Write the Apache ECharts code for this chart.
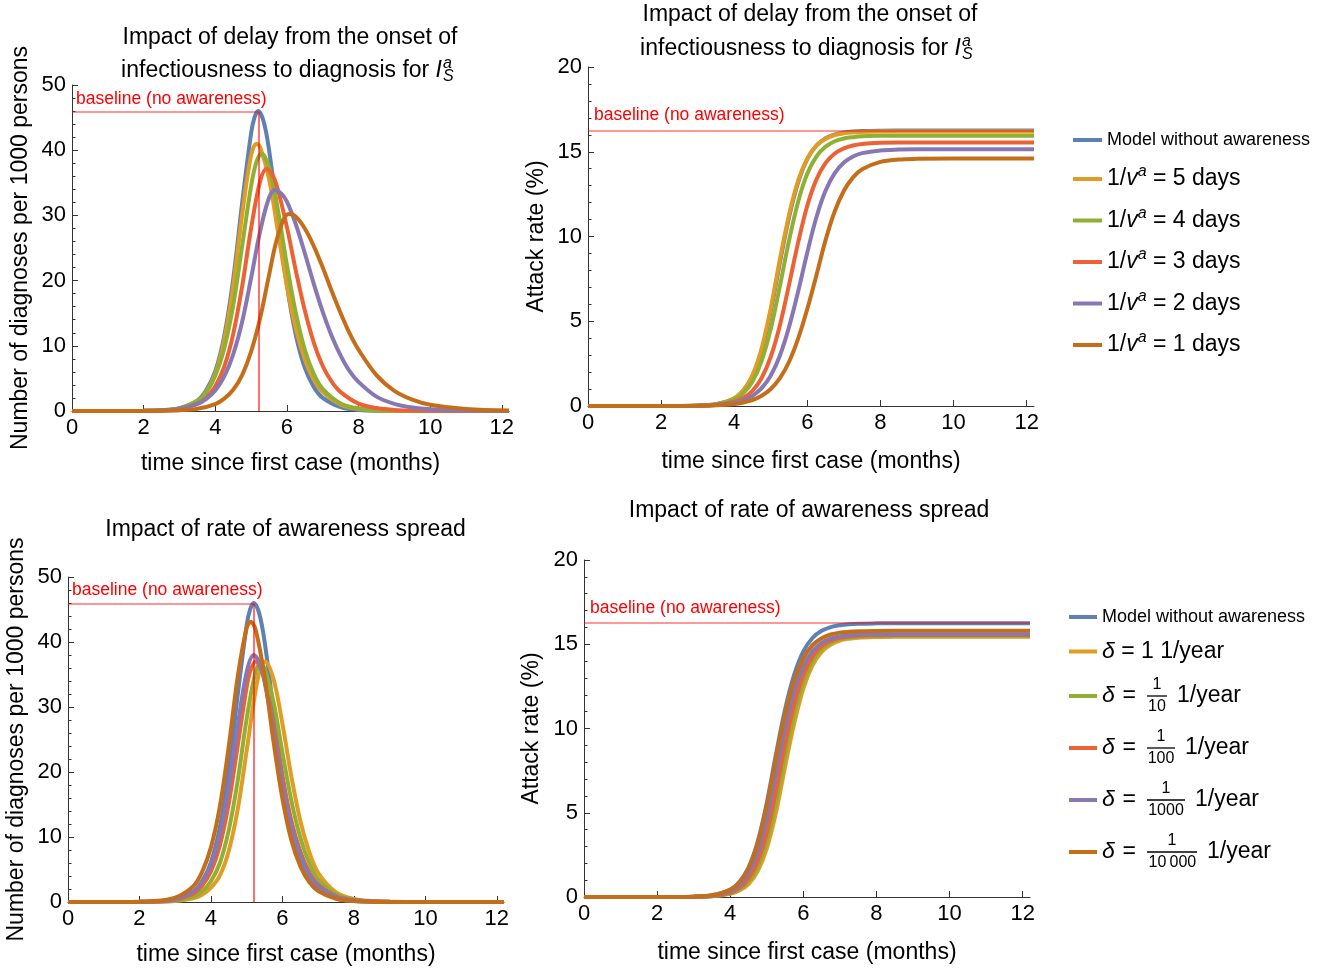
<!DOCTYPE html>
<html><head><meta charset="utf-8">
<script src="https://cdn.jsdelivr.net/npm/echarts@6/dist/echarts.min.js"></script>
<style>html,body{margin:0;padding:0;background:#fff}#c{width:1320px;height:968px}</style>
</head><body><div id="c"></div>
<script>
// ---------------- DATA ----------------
const delayNames = ['Model without awareness','1/v^a = 5 days','1/v^a = 4 days','1/v^a = 3 days','1/v^a = 2 days','1/v^a = 1 days'];
const deltaNames = ['Model without awareness','δ = 1 1/year','δ = 1/10 1/year','δ = 1/100 1/year','δ = 1/1000 1/year','δ = 1/10000 1/year'];
const xTicks = [0,2,4,6,8,10,12];

const basePeak = 45.9;       // baseline peak diagnoses
const basePeakTime = 5.2;    // month of baseline peak
const baseAttack = 16.25;    // baseline final attack rate (%)

// Panel A: diagnoses per 1000, delay scenarios ([month, value])
const diagBlue = [[0,0],[1,0],[2,0.03],[2.5,0.1],[3,0.4],[3.5,1.6],[3.75,3.2],[4,6.1],[4.25,11.5],[4.5,20.2],[4.75,31.9],[5,42.6],[5.1,45.1],[5.2,46],[5.35,44.4],[5.5,40.1],[5.75,29.6],[6,19.3],[6.25,11.6],[6.5,6.6],[6.75,3.7],[7,2.0],[7.5,0.58],[8,0.17],[9,0.01],[10,0],[12.2,0]];
const diagDelay5 = [[0,0],[1,0],[2,0.02],[2.5,0.08],[3,0.35],[3.5,1.4],[3.75,2.9],[4,5.7],[4.25,10.8],[4.5,19.1],[4.75,30.1],[5,39.2],[5.15,41],[5.25,40.5],[5.5,35.6],[5.75,27.5],[6,19.2],[6.25,12.6],[6.5,7.9],[6.75,4.8],[7,2.9],[7.5,0.98],[8,0.33],[8.5,0.11],[9,0.04],[10,0],[12.2,0]];
const diagDelay4 = [[0,0],[1,0],[2,0.02],[2.5,0.12],[3,0.45],[3.5,1.58],[3.75,2.9],[4,5.4],[4.25,9.6],[4.5,16.2],[4.75,25.3],[5,34.5],[5.15,38.2],[5.29,39.5],[5.5,37.4],[5.75,30.8],[6,22.4],[6.25,15.0],[6.5,9.4],[6.75,5.7],[7,3.4],[7.5,1.15],[8,0.38],[8.5,0.13],[9,0.04],[10,0],[12.2,0]];
const diagDelay3 = [[0,0],[1,0],[2,0.02],[2.5,0.09],[3,0.31],[3.5,1.1],[3.75,2.05],[4,3.8],[4.25,6.8],[4.5,11.8],[4.75,19.1],[5,28.0],[5.25,35.2],[5.43,37.1],[5.6,36.2],[5.75,33.9],[6,28.2],[6.25,21.5],[6.5,15.4],[6.75,10.5],[7,6.9],[7.25,4.5],[7.5,2.9],[8,1.14],[8.5,0.45],[9,0.17],[9.5,0.07],[10,0.03],[11,0],[12.2,0]];
const diagDelay2 = [[0,0],[1,0.01],[2,0.04],[2.5,0.12],[3,0.36],[3.5,1.08],[3.75,1.85],[4,3.15],[4.25,5.3],[4.5,8.7],[4.75,13.7],[5,20.4],[5.25,27.5],[5.5,32.7],[5.67,33.9],[5.85,33.3],[6,32.1],[6.25,28.6],[6.5,24.2],[6.75,19.5],[7,15.2],[7.25,11.5],[7.5,8.5],[7.75,6.1],[8,4.45],[8.5,2.2],[9,1.1],[9.5,0.54],[10,0.27],[11,0.06],[12.2,0.01]];
const diagDelay1 = [[0,0],[1,0],[2,0.01],[2.5,0.03],[3,0.11],[3.5,0.34],[4,1.07],[4.25,1.9],[4.5,3.25],[4.75,5.5],[5,9.1],[5.25,14.2],[5.5,20.8],[5.75,26.9],[6.05,30.2],[6.25,29.8],[6.5,28.0],[6.75,25.3],[7,22.0],[7.25,18.4],[7.5,15.0],[7.75,11.9],[8,9.4],[8.5,5.5],[9,3.1],[9.5,1.75],[10,0.96],[11,0.29],[12.2,0.07]];

// Attack rate panels share one time grid
const tAttack = [0,2,3,3.5,4,4.25,4.5,4.75,5,5.25,5.5,5.75,6,6.25,6.5,6.75,7,7.25,7.5,8,8.5,9,10,11,12.2];
const attackBlue   = [0,0,0.02,0.10,0.44,0.89,1.74,3.27,5.59,8.46,11.13,13.2,14.58,15.37,15.8,16.02,16.13,16.19,16.22,16.24,16.25,16.25,16.25,16.25,16.25];
const attackDelay5 = [0,0,0.03,0.11,0.46,0.94,1.83,3.41,5.78,8.66,11.29,13.31,14.61,15.37,15.77,15.99,16.09,16.14,16.17,16.19,16.2,16.2,16.2,16.2,16.2];
const attackDelay4 = [0,0,0.02,0.10,0.39,0.76,1.44,2.66,4.55,7.09,9.77,12.07,13.71,14.73,15.3,15.62,15.78,15.86,15.91,15.94,15.95,15.95,15.95,15.95,15.95];
const attackDelay3 = [0,0,0.02,0.07,0.25,0.48,0.9,1.65,2.91,4.77,7.16,9.67,11.83,13.37,14.34,14.9,15.2,15.37,15.46,15.53,15.55,15.55,15.55,15.55,15.55];
const attackDelay2 = [0,0,0.02,0.06,0.19,0.33,0.6,1.05,1.8,2.98,4.67,6.77,9.07,11.15,12.71,13.74,14.36,14.72,14.92,15.08,15.13,15.15,15.15,15.15,15.15];
const attackDelay1 = [0,0,0.01,0.04,0.12,0.21,0.35,0.6,1.0,1.64,2.61,3.99,5.74,7.73,9.8,11.49,12.7,13.49,13.97,14.4,14.54,14.58,14.6,14.6,14.6];

// Panel C: diagnoses, awareness spread rate scenarios
const diagDelta1     = [[0,0],[1,0],[2,0.01],[2.5,0.03],[3,0.14],[3.5,0.55],[3.75,1.1],[4,2.2],[4.25,4.1],[4.5,7.9],[4.75,14.3],[5,23.3],[5.25,32.6],[5.4,36.2],[5.51,37],[5.75,34.3],[6,27.4],[6.25,19.3],[6.5,12.5],[6.75,7.7],[7,4.5],[7.5,1.5],[8,0.48],[8.5,0.15],[9,0.05],[10,0],[12.2,0]];
const diagDelta10    = [[0,0],[1,0],[2,0.01],[2.5,0.05],[3,0.22],[3.5,0.84],[3.75,1.64],[4,3.2],[4.25,6.0],[4.5,11.1],[4.75,18.7],[5,28.2],[5.25,35.5],[5.38,36.6],[5.5,35.9],[5.75,30.8],[6,23.0],[6.25,15.6],[6.5,9.9],[6.75,6.0],[7,3.5],[7.5,1.16],[8,0.37],[8.5,0.12],[9,0.04],[10,0],[12.2,0]];
const diagDelta100   = [[0,0],[1,0],[2,0.02],[2.5,0.09],[3,0.34],[3.5,1.28],[3.75,2.5],[4,4.7],[4.25,8.7],[4.5,15.2],[4.75,24.1],[5,33.1],[5.1,35.5],[5.25,37],[5.4,35.9],[5.5,34.1],[5.75,27.2],[6,19.3],[6.25,12.5],[6.5,7.8],[6.75,4.6],[7,2.7],[7.5,0.88],[8,0.29],[8.5,0.1],[9,0.03],[10,0],[12.2,0]];
const diagDelta1000  = [[0,0],[1,0],[2,0.03],[2.5,0.11],[3,0.43],[3.5,1.6],[3.75,3.1],[4,5.7],[4.25,10.4],[4.5,17.6],[4.75,27.1],[5,35.4],[5.2,38],[5.35,36.9],[5.5,33.9],[5.75,26.3],[6,18.2],[6.25,11.7],[6.5,7.2],[6.75,4.2],[7,2.5],[7.5,0.8],[8,0.26],[8.5,0.09],[9,0.03],[10,0],[12.2,0]];
const diagDelta10000 = [[0,0],[1,0],[2,0.05],[2.5,0.18],[3,0.66],[3.5,2.4],[3.75,4.6],[4,8.4],[4.25,14.7],[4.5,24.0],[4.75,34.7],[5,42.2],[5.11,43.1],[5.25,41.9],[5.5,34.7],[5.75,24.7],[6,15.9],[6.25,9.5],[6.5,5.5],[6.75,3.05],[7,1.7],[7.5,0.5],[8,0.15],[8.5,0.05],[9,0],[12.2,0]];

// Panel D: attack rate, awareness spread rate scenarios (on tAttack)
const attackDelta1     = [0,0,0.01,0.04,0.19,0.38,0.77,1.53,2.89,5.0,7.73,10.3,12.36,13.74,14.55,14.98,15.22,15.33,15.39,15.43,15.45,15.45,15.45,15.45,15.45];
const attackDelta10    = [0,0,0.01,0.05,0.22,0.45,0.92,1.8,3.34,5.64,8.39,10.9,12.8,14.02,14.73,15.1,15.3,15.4,15.45,15.49,15.5,15.5,15.5,15.5,15.5];
const attackDelta100   = [0,0,0.01,0.06,0.26,0.54,1.09,2.11,3.83,6.31,9.06,11.45,13.19,14.28,14.89,15.21,15.38,15.46,15.51,15.54,15.55,15.55,15.55,15.55,15.55];
const attackDelta1000  = [0,0,0.02,0.08,0.34,0.70,1.4,2.64,4.66,7.34,10.01,12.2,13.69,14.59,15.08,15.33,15.47,15.53,15.57,15.59,15.6,15.6,15.6,15.6,15.6];
const attackDelta10000 = [0,0,0.02,0.10,0.42,0.86,1.69,3.18,5.43,8.23,10.82,12.85,14.17,14.95,15.36,15.58,15.69,15.74,15.77,15.79,15.8,15.8,15.8,15.8,15.8];

// ---------------- STYLE / BUILD ----------------
const FONT = '"Liberation Sans", Arial, Helvetica, sans-serif';
const COLORS = ['#5E81B5','#E19C24','#8FB032','#EB6235','#8778B3','#C56E1A'];
const AXIS_COLOR = '#333';
const zipT = arr => tAttack.map((t, i) => [t, arr[i]]);

const grids = [
  {left:72,  top:85,  width:437, height:326},
  {left:588, top:67,  width:446, height:339},
  {left:68,  top:577, width:436, height:325},
  {left:584, top:560, width:446, height:337}
].map(g => Object.assign({outerBoundsMode:'none', containLabel:false}, g));

function makeX(i, gap){
  return {type:'value', gridIndex:i, min:0, max:12.2, interval:2,
    axisLine:{show:true, onZero:false, lineStyle:{color:AXIS_COLOR, width:1}},
    axisTick:{show:true, inside:true, length:6, customValues:xTicks, lineStyle:{color:AXIS_COLOR}},
    axisLabel:{customValues:xTicks, fontSize:22, color:'#000', fontFamily:FONT, margin:6},
    splitLine:{show:false},
    name:'time since first case (months)', nameLocation:'middle', nameGap:gap,
    nameTextStyle:{fontSize:23, color:'#000', fontFamily:FONT}};
}
function makeY(i, max, interval, name, gap){
  return {type:'value', gridIndex:i, min:0, max:max, interval:interval,
    axisLine:{show:true, lineStyle:{color:AXIS_COLOR, width:1}},
    axisTick:{show:true, inside:true, length:6, lineStyle:{color:AXIS_COLOR}},
    minorTick:{show:true, splitNumber:5, length:3.5, lineStyle:{color:AXIS_COLOR}},
    axisLabel:{fontSize:22, color:'#000', fontFamily:FONT, margin:6},
    splitLine:{show:false}, minorSplitLine:{show:false},
    name:name, nameLocation:'middle', nameGap:gap,
    nameTextStyle:{fontSize:23, color:'#000', fontFamily:FONT}};
}

const baseLabel = {show:true, formatter:'baseline (no awareness)', position:'insideStartTop', color:'#ff0000', fontSize:17.5, fontFamily:FONT, distance:4};
const hLine = {color:'rgba(255,0,0,0.55)', width:1.5, type:'solid'};
const vLine = {color:'rgba(255,0,0,0.75)', width:1.5, type:'solid'};

function peakMark(){
  return {silent:true, symbol:['none','none'], animation:false,
    data:[
      [{coord:[0, basePeak], lineStyle:hLine, label:baseLabel}, {coord:[basePeakTime, basePeak]}],
      [{coord:[basePeakTime, 0], lineStyle:vLine, label:{show:false}}, {coord:[basePeakTime, basePeak]}]
    ]};
}
function attackMark(){
  return {silent:true, symbol:['none','none'], animation:false,
    data:[[{coord:[0, baseAttack], lineStyle:hLine, label:Object.assign({}, baseLabel, {distance:6})}, {coord:[12.2, baseAttack]}]]};
}

function line(name, k, data, axis, extra){
  return Object.assign({type:'line', name:name, xAxisIndex:axis, yAxisIndex:axis, data:data,
    color:COLORS[k], showSymbol:false, symbol:'none', smooth:0.35, animation:false,
    lineStyle:{width:4, color:COLORS[k]}}, extra || {});
}

const panelA = [diagBlue, diagDelay5, diagDelay4, diagDelay3, diagDelay2, diagDelay1];
const panelB = [attackBlue, attackDelay5, attackDelay4, attackDelay3, attackDelay2, attackDelay1].map(zipT);
const panelC = [diagBlue, diagDelta1, diagDelta10, diagDelta100, diagDelta1000, diagDelta10000];
const panelD = [attackBlue, attackDelta1, attackDelta10, attackDelta100, attackDelta1000, attackDelta10000].map(zipT);

const series = [];
panelA.forEach((d,k)=>series.push(line(delayNames[k], k, d, 0, k===5?{markLine:peakMark()}:null)));
panelB.forEach((d,k)=>series.push(line(delayNames[k], k, d, 1, k===5?{markLine:attackMark()}:null)));
panelC.forEach((d,k)=>series.push(line(deltaNames[k], k, d, 2, k===5?{markLine:peakMark()}:null)));
panelD.forEach((d,k)=>series.push(line(deltaNames[k], k, d, 3, k===5?{markLine:attackMark()}:null)));

// ---------------- LEGENDS ----------------
const base = {color:'#000', fontFamily:FONT};
const richTop = {
  m:   Object.assign({fontSize:18, lineHeight:22}, base),
  n:   Object.assign({fontSize:23, lineHeight:30}, base),
  v:   Object.assign({fontSize:23, lineHeight:30, fontStyle:'italic'}, base),
  sup: Object.assign({fontSize:16, lineHeight:20, verticalAlign:'top', fontStyle:'italic'}, base)
};
function fmtDelay(name){
  if (name === 'Model without awareness') return '{m|' + name + '}';
  const d = name.match(/= (\d+) days/)[1];
  return '{n|1/}{v|v}{sup|a}{n| = ' + d + ' days}';
}
const fracW = {'10':20, '100':28, '1000':38, '10000':50};
const denLabel = {'10':'10', '100':'100', '1000':'1000', '10000':'10\u2009000'};
const FRAC_FS = 16, DIGIT_W = 8.9, PREFIX_W = 45;
const richBottom = {
  m:  Object.assign({fontSize:18, lineHeight:22}, base),
  d:  Object.assign({fontSize:23, lineHeight:30, fontStyle:'italic'}, base),
  t:  Object.assign({fontSize:23, lineHeight:30}, base),
  d2: Object.assign({fontSize:23, lineHeight:6, fontStyle:'italic', width:14}, base),
  eq: Object.assign({fontSize:23, lineHeight:6, width:31}, base),
  g:  Object.assign({fontSize:10, lineHeight:6, width:10}, base),
  u:  Object.assign({fontSize:23, lineHeight:6}, base)
};
Object.keys(fracW).forEach(k => {
  const denW = k.length * DIGIT_W + (k.length > 4 ? 2.5 : 0);
  richBottom['spn' + k] = Object.assign({fontSize:10, lineHeight:16, width:PREFIX_W + (fracW[k] - DIGIT_W) / 2}, base);
  richBottom['spd' + k] = Object.assign({fontSize:10, lineHeight:16, width:PREFIX_W + (fracW[k] - denW) / 2}, base);
  richBottom['num' + k] = Object.assign({fontSize:FRAC_FS, lineHeight:13, verticalAlign:'bottom'}, base);
  richBottom['den' + k] = Object.assign({fontSize:FRAC_FS, lineHeight:13, verticalAlign:'top'}, base);
  richBottom['bar' + k] = {fontSize:1, lineHeight:2, height:1.3, width:fracW[k], backgroundColor:'#000'};
});
function fmtDelta(name){
  if (name === 'Model without awareness') return '{m|' + name + '}';
  const v = name.match(/^δ = (\S+) 1\/year$/)[1];
  if (v.indexOf('/') < 0) return '{d|δ}{t| = ' + v + ' 1/year}';
  const den = v.split('/')[1];
  return '{spn' + den + '| }{num' + den + '|1}\n{d2|δ}{eq| =}{bar' + den + '| }{g| }{u|1/year}\n{spd' + den + '| }{den' + den + '|' + denLabel[den] + '}';
}

// ---------------- TITLES ----------------
function txt(x, y, text, size, opts){
  return {type:'text', x:x, y:y, silent:true, style:Object.assign({text:text, fill:'#000',
    font:(opts && opts.italic ? 'italic ' : '') + size + 'px ' + FONT,
    align:(opts && opts.align) || 'center', verticalAlign:'middle'}, opts && opts.style)};
}
function scriptTitle(cx, y1, y2, anchor){
  return [
    txt(cx, y1, 'Impact of delay from the onset of', 23),
    {type:'text', x:anchor, y:y2, silent:true, style:{
      text:'{n|infectiousness to diagnosis for }{i|I}', align:'right', verticalAlign:'middle',
      rich:{n:{fontSize:23, fontFamily:FONT, fill:'#000', color:'#000'},
            i:{fontSize:23, fontFamily:FONT, fontStyle:'italic', fill:'#000', color:'#000'}}}},
    txt(anchor + 1, y2 - 7, 'a', 16, {italic:true, align:'left'}),
    txt(anchor + 1, y2 + 6, 'S', 16, {italic:true, align:'left'})
  ];
}
const graphics = [].concat(
  scriptTitle(290, 38, 71, 442),
  scriptTitle(810, 15, 49, 961),
  [txt(285.5, 530, 'Impact of rate of awareness spread', 23),
   txt(809, 511, 'Impact of rate of awareness spread', 23)]
);

const option = {
  backgroundColor:'#fff',
  animation:false,
  textStyle:{fontFamily:FONT},
  grid:grids,
  xAxis:[makeX(0,41), makeX(1,44), makeX(2,41), makeX(3,44)],
  yAxis:[
    makeY(0, 50, 10, 'Number of diagnoses per 1000 persons', 40),
    makeY(1, 20, 5, 'Attack rate (%)', 40),
    makeY(2, 50, 10, 'Number of diagnoses per 1000 persons', 40),
    makeY(3, 20, 5, 'Attack rate (%)', 41)
  ],
  legend:[
    {data:delayNames, orient:'vertical', left:1068, top:126, itemGap:15, itemWidth:29, itemHeight:4,
     icon:'rect', selectedMode:false, formatter:fmtDelay, textStyle:{color:'#000', fontFamily:FONT, rich:richTop}},
    {data:deltaNames, orient:'vertical', left:1064, top:603, itemGap:14, itemWidth:28, itemHeight:4,
     icon:'rect', selectedMode:false, formatter:fmtDelta, textStyle:{color:'#000', fontFamily:FONT, rich:richBottom}}
  ],
  graphic:graphics,
  series:series
};

const chart = echarts.init(document.getElementById('c'), null, {renderer:'canvas'});
chart.setOption(option);
</script></body></html>
